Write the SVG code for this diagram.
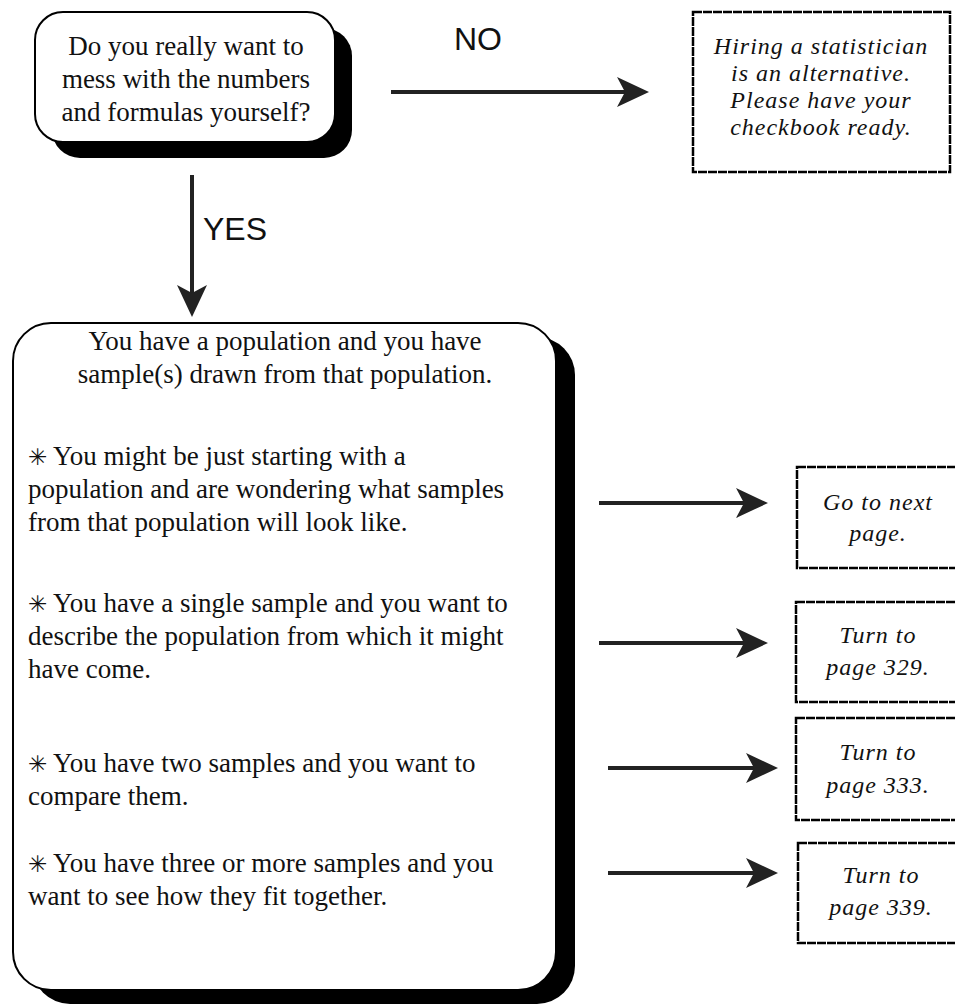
<svg xmlns="http://www.w3.org/2000/svg" width="955" height="1005" viewBox="0 0 955 1005">
<style>
.bg{fill:#fff}
.box{fill:#fff;stroke:#000;stroke-width:2}
.shadow{fill:#000}
.note{fill:#fff;stroke:#000;stroke-width:2.5;stroke-dasharray:9 1}
.t{font-family:"Liberation Serif","Times New Roman",serif;font-size:27px;fill:#111}
.c{text-anchor:middle}
.it{font-family:"Liberation Serif","Times New Roman",serif;font-style:italic;font-size:24px;letter-spacing:1px;fill:#111;text-anchor:middle}
.lab{font-family:"Liberation Sans",Arial,sans-serif;font-size:32px;fill:#111}
.star{font-family:"DejaVu Sans",sans-serif;font-size:23px}
.conn{stroke:#222;stroke-width:4;fill:none;marker-end:url(#ah)}
</style>
<defs>
<marker id="ah" markerUnits="userSpaceOnUse" markerWidth="34" markerHeight="32" refX="8" refY="15" orient="auto" viewBox="0 0 34 30">
<path d="M0,0 L32,15 L0,30 L8,15 Z" fill="#222"/>
</marker>
</defs>
<rect class="bg" x="0" y="0" width="955" height="1005"/>

<g id="question">
<rect class="shadow" x="52" y="28" width="300" height="130" rx="28"/>
<rect class="box" x="35" y="12" width="300" height="130" rx="28"/>
<text class="t c" x="186" y="55">Do you really want to</text>
<text class="t c" x="186" y="88">mess with the numbers</text>
<text class="t c" x="186" y="121">and formulas yourself?</text>
</g>

<g id="hire">
<rect class="note" x="693" y="12" width="257" height="160"/>
<text class="it" x="821" y="54">Hiring a statistician</text>
<text class="it" x="821" y="81">is an alternative.</text>
<text class="it" x="821" y="108">Please have your</text>
<text class="it" x="821" y="135">checkbook ready.</text>
</g>

<g id="main">
<rect class="shadow" x="32" y="337" width="543" height="667" rx="38"/>
<rect class="box" x="13" y="323" width="543" height="667" rx="38"/>
<text class="t c" x="285" y="350">You have a population and you have</text>
<text class="t c" x="285" y="383">sample(s) drawn from that population.</text>
<text class="t" x="28" y="465"><tspan class="star">✳</tspan> You might be just starting with a</text>
<text class="t" x="28" y="498">population and are wondering what samples</text>
<text class="t" x="28" y="531">from that population will look like.</text>
<text class="t" x="28" y="612"><tspan class="star">✳</tspan> You have a single sample and you want to</text>
<text class="t" x="28" y="645">describe the population from which it might</text>
<text class="t" x="28" y="678">have come.</text>
<text class="t" x="28" y="772"><tspan class="star">✳</tspan> You have two samples and you want to</text>
<text class="t" x="28" y="805">compare them.</text>
<text class="t" x="28" y="872"><tspan class="star">✳</tspan> You have three or more samples and you</text>
<text class="t" x="28" y="905">want to see how they fit together.</text>
</g>

<g id="next">
<rect class="note" x="797" y="467" width="165" height="101"/>
<text class="it" x="878" y="510">Go to next</text>
<text class="it" x="878" y="541">page.</text>
</g>
<g id="p329">
<rect class="note" x="796" y="602" width="166" height="100"/>
<text class="it" x="878" y="643">Turn to</text>
<text class="it" x="878" y="675">page 329.</text>
</g>
<g id="p333">
<rect class="note" x="796" y="718" width="166" height="102"/>
<text class="it" x="878" y="760">Turn to</text>
<text class="it" x="878" y="793">page 333.</text>
</g>
<g id="p339">
<rect class="note" x="798" y="843" width="164" height="100"/>
<text class="it" x="881" y="883">Turn to</text>
<text class="it" x="881" y="915">page 339.</text>
</g>

<g id="connectors">
<line class="conn" x1="391" y1="92" x2="625" y2="92"/>
<text class="lab" x="478" y="50" text-anchor="middle">NO</text>
<line class="conn" x1="192" y1="175" x2="192" y2="293"/>
<text class="lab" x="203" y="240">YES</text>
<line class="conn" x1="599" y1="503" x2="744" y2="503"/>
<line class="conn" x1="599" y1="643" x2="744" y2="643"/>
<line class="conn" x1="608" y1="768" x2="754" y2="768"/>
<line class="conn" x1="608" y1="873" x2="754" y2="873"/>
</g>
</svg>
